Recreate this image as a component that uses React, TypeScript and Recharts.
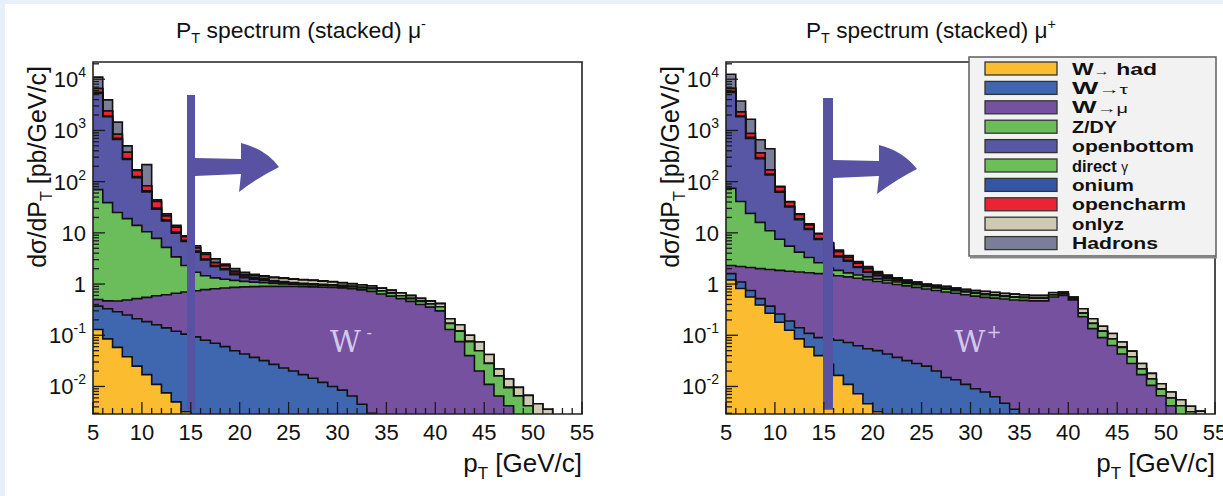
import React from 'react'
import { ComposedChart, Area, XAxis, YAxis, ReferenceArea, ReferenceDot, Legend } from 'recharts'

const FONT = '"Liberation Sans", Arial, Helvetica, sans-serif'
const CHART_W = 600
const CHART_H = 496
const Y_AXIS_W = 60
const X_AXIS_H = 60
const MARGIN = { top: 62, right: 18, bottom: 82 - X_AXIS_H, left: 93 - Y_AXIS_W }
const Y_MIN = 0.0029
const Y_MAX = 21700
const FLOOR = 1e-6
const ARROW = '#5753a2'

// bin low edges, 1 GeV/c bins from 5 to 55
const binLow = Array.from({ length: 50 }, (_, i) => 5 + i)
const xTicks = Array.from({ length: 51 }, (_, i) => 5 + i)
const yTicks: number[] = []
for (let d = -3; d <= 4; d++) {
  for (let m = 1; m <= 9; m++) {
    const v = Number((m * Math.pow(10, d)).toPrecision(3))
    if (v >= Y_MIN && v <= Y_MAX) yTicks.push(v)
  }
}

const SPECIES = [
  { key: 'whad', name: 'W→ had', color: '#fbbc30', w: 85 },
  { key: 'wtau', name: 'W→τ', color: '#3f67af', w: 56 },
  { key: 'wmu', name: 'W→μ', color: '#7551a0', w: 56 },
  { key: 'zdy', name: 'Z/DY', color: '#6bbd5b', w: 45 },
  { key: 'ob', name: 'openbottom', color: '#5757a6', w: 122 },
  { key: 'gamma', name: 'direct γ', color: '#6cbf57', w: 56 },
  { key: 'onium', name: 'onium', color: '#3356a5', w: 62 },
  { key: 'oc', name: 'opencharm', color: '#ec2333', w: 114 },
  { key: 'onlyz', name: 'onlyz', color: '#cfcab2', w: 52 },
  { key: 'had', name: 'Hadrons', color: '#7c7e99', w: 86 },
]

// ---- mu- (values per bin starting at pT = 5, missing bins are empty)
const whadMinus = [0.13, 0.085, 0.058, 0.038, 0.025, 0.017, 0.011, 0.0075, 0.005, 0.0032]
const wtauMinus = [0.24, 0.245, 0.23, 0.21, 0.185, 0.168, 0.149, 0.132, 0.115, 0.102, 0.093, 0.08, 0.07, 0.06, 0.05, 0.043, 0.037, 0.032, 0.027, 0.023, 0.02, 0.017, 0.0145, 0.012, 0.01, 0.0085, 0.0065, 0.0045, 0.003]
const wmuMinus = [0.13, 0.14, 0.18, 0.24, 0.31, 0.365, 0.43, 0.48, 0.54, 0.595, 0.647, 0.7, 0.74, 0.78, 0.81, 0.837, 0.853, 0.868, 0.873, 0.877, 0.88, 0.873, 0.866, 0.858, 0.85, 0.832, 0.804, 0.766, 0.717, 0.64, 0.58, 0.52, 0.46, 0.4, 0.355, 0.3, 0.13, 0.075, 0.04, 0.02, 0.011, 0.0065, 0.0042]
const zdyMinus = [69.5, 38.5, 24.5, 18.5, 13.5, 9.95, 7.2, 4.58, 2.74, 1.6, 0.96, 0.67, 0.51, 0.4, 0.32, 0.25, 0.2, 0.16, 0.13, 0.11, 0.09, 0.08, 0.08, 0.08, 0.07, 0.07, 0.07, 0.07, 0.09, 0.09, 0.08, 0.07, 0.06, 0.06, 0.055, 0.06, 0.04, 0.045, 0.035, 0.03, 0.017, 0.0095, 0.0053, 0.0065, 0.0042]
const obMinus = [5230, 1811, 645, 251, 106, 52.5, 21.2, 11.8, 6.4, 4.5, 2.5, 1.5, 0.88, 0.66, 0.34, 0.2, 0.15, 0.11, 0.07, 0.05, 0.04, 0.03, 0.02, 0.015, 0.015, 0.015, 0.015, 0.01, 0.01, 0.005, 0.005]
const gammaMinus = [30, 12, 5, 2, 1, 0.5, 0.3, 0.2, 0.12, 0.08, 0.05, 0.04, 0.03, 0.025, 0.02, 0.015, 0.012, 0.01, 0.008, 0.006, 0.005, 0.004, 0.004, 0.003, 0.003, 0.003, 0.002, 0.002, 0.002, 0.001, 0.001]
const oniumMinus = [250, 80, 30, 12, 5, 2.5, 1.2, 0.7, 0.4, 0.25, 0.15, 0.1, 0.07, 0.05, 0.035, 0.025, 0.02, 0.015, 0.01, 0.008, 0.006, 0.005, 0.004, 0.003, 0.003, 0.003, 0.002, 0.002, 0.001, 0.001, 0.001]
const ocMinus = [1000, 450, 135, 90, 39, 17, 10.5, 3.6, 2.6, 1.27, 0.7, 0.7, 0.3, 0.3, 0.15, 0.1, 0.08, 0.08, 0.05, 0.04, 0.03, 0.02, 0.02, 0.015, 0.01, 0.01, 0.005, 0.005, 0.005, 0.005, 0.005]
const onlyzMinus = [30, 10, 3, 1, 0.5, 0.3, 0.2, 0.15, 0.12, 0.1, 0.08, 0.07, 0.06, 0.06, 0.06, 0.08, 0.1, 0.12, 0.17, 0.17, 0.17, 0.17, 0.17, 0.155, 0.14, 0.11, 0.1, 0.1, 0.09, 0.09, 0.08, 0.08, 0.075, 0.065, 0.055, 0.055, 0.04, 0.04, 0.025, 0.024, 0.014, 0.006, 0.0045, 0.0031, 0.0025, 0.0046, 0.0036]
const hadMinus = [4390, 1548, 607, 125, 4.5, 132, 2.8, 1.85, 0.96, 0.3, 0.42, 0.24, 0.44, 0.115, 0.215, 0.15, 0.1, 0.055, 0.04, 0.035, 0.03, 0.03, 0.02, 0.02, 0.02, 0.02, 0.016, 0.01, 0.01, 0.008, 0.008, 0.006, 0.005, 0.005, 0.005, 0.005]

// ---- mu+
const whadPlus = [1.2, 0.82, 0.56, 0.39, 0.27, 0.18, 0.125, 0.085, 0.059, 0.04, 0.027, 0.0165, 0.011, 0.0072, 0.0046, 0.0032]
const wtauPlus = [0.4, 0.28, 0.19, 0.13, 0.1, 0.08, 0.065, 0.055, 0.05, 0.05, 0.058, 0.0635, 0.061, 0.055, 0.05, 0.047, 0.043, 0.037, 0.032, 0.028, 0.025, 0.02, 0.015, 0.0135, 0.011, 0.009, 0.0078, 0.0063, 0.0047, 0.0036]
const wmuPlus = [0.7, 1.1, 1.35, 1.48, 1.55, 1.59, 1.59, 1.58, 1.55, 1.51, 1.465, 1.37, 1.308, 1.238, 1.165, 1.07, 1.007, 0.943, 0.888, 0.832, 0.775, 0.73, 0.685, 0.6465, 0.609, 0.571, 0.542, 0.524, 0.505, 0.486, 0.48, 0.47, 0.47, 0.56, 0.6, 0.49, 0.23, 0.135, 0.09, 0.063, 0.043, 0.028, 0.017, 0.0105, 0.0066, 0.0042]
const zdyPlus = [71.7, 38.8, 21.9, 14, 9.08, 5.65, 3.72, 2.48, 1.64, 1.0, 0.51, 0.4, 0.27, 0.2, 0.16, 0.14, 0.13, 0.12, 0.11, 0.11, 0.1, 0.09, 0.09, 0.08, 0.08, 0.08, 0.07, 0.07, 0.065, 0.065, 0.06, 0.06, 0.06, 0.05, 0.04, 0.02, 0.04, 0.035, 0.03, 0.022, 0.015, 0.01, 0.005, 0.0035, 0.0022, 0.0018, 0.0042, 0.0032]
const obPlus = [5426, 1809, 676, 264, 124, 54.5, 26.5, 13.8, 8.3, 4.8, 2.94, 1.55, 1.15, 0.6, 0.32, 0.19, 0.12, 0.08, 0.05, 0.03, 0.03, 0.02, 0.02, 0.015, 0.01, 0.01, 0.01, 0.005, 0.005, 0.005, 0.005]
const gammaPlus = [30, 12, 5, 2, 1, 0.5, 0.3, 0.2, 0.12, 0.08, 0.05, 0.04, 0.03, 0.025, 0.02, 0.015, 0.012, 0.01, 0.008, 0.006, 0.005, 0.004, 0.004, 0.003, 0.003, 0.003, 0.002, 0.002, 0.002, 0.001, 0.001]
const oniumPlus = [250, 80, 30, 12, 5, 2.5, 1.2, 0.7, 0.4, 0.25, 0.15, 0.1, 0.07, 0.05, 0.035, 0.025, 0.02, 0.015, 0.01, 0.008, 0.006, 0.005, 0.004, 0.003, 0.003, 0.003, 0.002, 0.002, 0.001, 0.001, 0.001]
const ocPlus = [820, 358, 135, 71, 29, 14, 6.5, 4.1, 2.2, 1.77, 1.0, 0.76, 0.4, 0.375, 0.245, 0.11, 0.08, 0.06, 0.04, 0.03, 0.02, 0.02, 0.015, 0.01, 0.01, 0.01, 0.005, 0.005, 0.005, 0.005, 0.005]
const onlyzPlus = [30, 10, 3, 1, 0.5, 0.3, 0.2, 0.15, 0.12, 0.1, 0.08, 0.07, 0.06, 0.06, 0.06, 0.05, 0.05, 0.04, 0.05, 0.046, 0.03, 0.055, 0.06, 0.063, 0.058, 0.058, 0.075, 0.07, 0.066, 0.068, 0.063, 0.065, 0.065, 0.065, 0.055, 0.045, 0.06, 0.04, 0.03, 0.023, 0.016, 0.011, 0.006, 0.004, 0.0025, 0.0018, 0.0013, 0.0009, 0.0033]
const hadPlus = [5870, 1440, 777, 294, 269.5, 1.7, 0.8, 0.35, 0.58, 0.25, 0.22, 0.23, 0.24, 0.14, 0.14, 0.1, 0.038, 0.015, 0.012, 0.01, 0.009, 0.006, 0.007, 0.006, 0.006, 0.006, 0.006, 0.006, 0.006, 0.005, 0.005, 0.005, 0.005, 0.005, 0.005, 0.005]

// stack the species bin by bin; each layer is drawn as a step area from its cumulative top
function buildRows(series: number[][]) {
  const rows = binLow.map((pt, i) => {
    const row: Record<string, number> = { pt }
    let cum = 0
    series.forEach((s, k) => {
      cum += s[i] ?? 0
      row['c' + k] = cum > 0 ? cum : FLOOR
    })
    return row
  })
  rows.push({ ...rows[rows.length - 1], pt: 55 })
  return rows
}

const rowsMinus = buildRows([whadMinus, wtauMinus, wmuMinus, zdyMinus, obMinus, gammaMinus, oniumMinus, ocMinus, onlyzMinus, hadMinus])
const rowsPlus = buildRows([whadPlus, wtauPlus, wmuPlus, zdyPlus, obPlus, gammaPlus, oniumPlus, ocPlus, onlyzPlus, hadPlus])

const XTick = (props: any) => {
  const { x, y, payload } = props
  const v = payload.value
  const major = v % 5 === 0
  return (
    <g>
      <line x1={x} x2={x} y1={y} y2={y - (major ? 12 : 6)} stroke="#1a1a1a" strokeWidth={1.3} />
      {major && (
        <text x={x} y={y + 26} textAnchor="middle" fontSize={22} fill="#111" fontFamily={FONT}>
          {v}
        </text>
      )}
    </g>
  )
}

const YTick = (props: any) => {
  const { x, y, payload } = props
  const v = payload.value
  const lg = Math.log10(v)
  const e = Math.round(lg)
  const major = Math.abs(lg - e) < 1e-6
  return (
    <g>
      <line x1={x} x2={x + (major ? 12 : 6)} y1={y} y2={y} stroke="#1a1a1a" strokeWidth={1.3} />
      {major && (
        <text x={x - 7} y={y + 8} textAnchor="end" fontSize={22} fill="#111" fontFamily={FONT}>
          {e === 0 ? '1' : e === 1 ? '10' : (
            <>
              10<tspan fontSize={14} dy={-10}>{e}</tspan>
            </>
          )}
        </text>
      )}
    </g>
  )
}

const legendLabel = (key: string, name: string) => {
  if (key === 'whad') return <>W<tspan fontWeight="normal" fontSize={12}>→</tspan> had</>
  if (key === 'wtau') return <>W<tspan fontWeight="normal" fontSize={13}>→τ</tspan></>
  if (key === 'wmu') return <>W<tspan fontWeight="normal" fontSize={13}>→μ</tspan></>
  if (key === 'gamma') return <>direct <tspan fontWeight="normal" fontSize={14}>γ</tspan></>
  return name
}

const LegendBox = () => (
  <svg width={250} height={204} style={{ display: 'block' }}>
    <rect x={1} y={1} width={247} height={199} fill="#f2f2f2" stroke="#5e5e5e" strokeWidth={1.5} />
    <line x1={2} y1={201.5} x2={249} y2={201.5} stroke="#888" strokeWidth={2} />
    {SPECIES.map((s, k) => {
      const cy = 12.5 + 19.4 * k
      return (
        <g key={s.key}>
          <rect x={17} y={cy - 6.5} width={72} height={13} fill={s.color} stroke="#333" strokeWidth={1.3} />
          <text x={104} y={cy + 6} fontSize={17} fontWeight="bold" fill="#111" fontFamily={FONT}
            textLength={s.w} lengthAdjust="spacingAndGlyphs">
            {legendLabel(s.key, s.name)}
          </text>
        </g>
      )
    })}
  </svg>
)

type PanelProps = {
  rows: Record<string, number>[]
  legend: boolean
  bar: [number, number, number, number]
  arrow: [number, number]
  wPos: [number, number]
  wSign: string
}

function Panel({ rows, legend, bar, arrow, wPos, wSign }: PanelProps) {
  const layers = SPECIES.map((s, k) => ({ ...s, k })).reverse()
  return (
    <ComposedChart width={CHART_W} height={CHART_H} data={rows} margin={MARGIN}>
      {layers.map((s) => (
        <Area
          key={s.key}
          dataKey={'c' + s.k}
          name={s.name}
          type="stepAfter"
          baseValue={Y_MIN}
          fill={s.color}
          fillOpacity={1}
          stroke="#111"
          strokeWidth={1.6}
          dot={false}
          activeDot={false}
          isAnimationActive={false}
        />
      ))}
      <XAxis dataKey="pt" type="number" domain={[5, 55]} ticks={xTicks} interval={0} allowDataOverflow
        height={X_AXIS_H} tickSize={0} tickMargin={0} tickLine={false} axisLine={false} tick={<XTick />} />
      <YAxis type="number" scale="log" domain={[Y_MIN, Y_MAX]} ticks={yTicks} interval={0} allowDataOverflow
        width={Y_AXIS_W} tickSize={0} tickMargin={0} tickLine={false} axisLine={false} tick={<YTick />} />
      <ReferenceArea x1={bar[0]} x2={bar[1]} y1={bar[2]} y2={bar[3]} fill={ARROW} fillOpacity={1}
        stroke="none" zIndex={700} />
      <ReferenceDot x={arrow[0]} y={arrow[1]} r={0} zIndex={700}
        shape={(p: any) => (
          <path transform={`translate(${p.cx},${p.cy})`} fill={ARROW}
            d="M0,-9 L46,-8 L46,-24 Q70,-18 84,0 Q64,10 44,25 L46,7 L0,9 Z" />
        )} />
      <ReferenceDot x={wPos[0]} y={wPos[1]} r={0} zIndex={700}
        shape={(p: any) => (
          <g fill="#d3c8ea" fontFamily='"DejaVu Serif", serif'>
            <text x={p.cx} y={p.cy} textAnchor="middle" fontSize={30}>W</text>
            <text x={p.cx + 24} y={p.cy - 14} textAnchor="middle" fontSize={wSign === '+' ? 18 : 16}>{wSign}</text>
          </g>
        )} />
      <ReferenceArea x1={5} x2={55} y1={Y_MIN} y2={Y_MAX} fill="none" stroke="#222" strokeWidth={1.6}
        ifOverflow="visible" zIndex={800} />
      {legend && (
        <Legend layout="vertical" align="center" verticalAlign="middle" content={() => <LegendBox />}
          wrapperStyle={{ left: 335, top: 56, width: 250, height: 204 }} />
      )}
    </ComposedChart>
  )
}

const PANEL_SHIFT = 633

const Titles = ({ dx, sign }: { dx: number; sign: string }) => (
  <g fill="#111" fontFamily={FONT}>
    <text x={301 + dx + (dx ? -3 : 0)} y={38} textAnchor="middle" fontSize={22}
      textLength={250} lengthAdjust="spacingAndGlyphs">
      P<tspan fontSize={14} dy={5}>T</tspan>
      <tspan dy={-5}> spectrum (stacked) μ</tspan>
      <tspan fontSize={14} dy={-9}>{sign}</tspan>
    </text>
    <text transform={`translate(${46 + dx},167) rotate(-90)`} textAnchor="middle" fontSize={25}>
      dσ/dP<tspan fontSize={16} dy={6}>T</tspan>
      <tspan dy={-6}> [pb/GeV/c]</tspan>
    </text>
    <text x={582 + dx} y={472} textAnchor="end" fontSize={26}>
      p<tspan fontSize={17} dy={7}>T</tspan>
      <tspan dy={-7}> [GeV/c]</tspan>
    </text>
  </g>
)

export default function App() {
  return (
    <div style={{ position: 'relative', width: 1223, height: 496, overflow: 'hidden', background: '#e7eff9', fontFamily: FONT }}>
      <style>{'body{margin:0;}'}</style>
      <div style={{ position: 'absolute', left: 5, top: 4, right: 0, bottom: 0, background: '#fff' }} />
      <div style={{ position: 'absolute', left: 0, top: 0 }}>
        <Panel rows={rowsMinus} legend={false} bar={[14.61, 15.43, 0.0035, 4900]} arrow={[15.43, 194]}
          wPos={[30.8, 0.0475]} wSign="-" />
      </div>
      <div style={{ position: 'absolute', left: PANEL_SHIFT, top: 0 }}>
        <Panel rows={rowsPlus} legend bar={[14.92, 15.94, 0.0035, 4300]} arrow={[15.94, 177]}
          wPos={[29.95, 0.0475]} wSign="+" />
      </div>
      <svg width={1223} height={496} style={{ position: 'absolute', left: 0, top: 0, pointerEvents: 'none' }}>
        <Titles dx={0} sign="-" />
        <Titles dx={PANEL_SHIFT} sign="+" />
      </svg>
    </div>
  )
}
